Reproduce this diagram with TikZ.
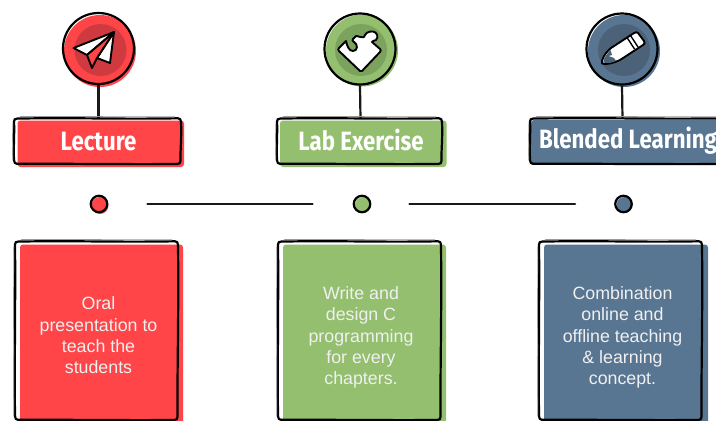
\documentclass[tikz,border=0pt]{standalone}
\usepackage{fontspec}
\setmainfont{Liberation Sans}
\newfontfamily\titlefont[FakeStretch=0.84]{Fira Sans}
\definecolor{cred}{HTML}{FF4548}
\definecolor{cgreen}{HTML}{93BF6F}
\definecolor{cblue}{HTML}{587591}
\definecolor{dred}{HTML}{CF3A40}
\definecolor{dgreen}{HTML}{7CA35D}
\definecolor{dblue}{HTML}{4C6278}
\tikzset{
  ink/.style={line width=2.2pt,draw=black,line join=round,line cap=round},
  thinink/.style={line width=.7pt,draw=black!40,line cap=round},
  iconink/.style={line width=1.9pt,draw=black,line join=round},
  stem/.style={line width=2.2pt,draw=black!90},
  ball/.style={circle,draw=black,line width=2.2pt,minimum size=#1,inner sep=0pt},
  titletext/.style={text=white,font=\titlefont\bfseries\fontsize{26.5}{29}\selectfont,inner sep=0pt,anchor=base},
  bodytext/.style={text=white!94!black,align=center,font=\fontsize{17.8}{21.3}\selectfont,inner sep=0pt},
  anchorbox/.style={inner sep=0pt,minimum width=#1,minimum height=1pt},
}
% hand-drawn rounded box: left, top, right, bottom
\newcommand{\sketchbox}[4]{%
  \draw[ink] ({#1+3},{#2+.6}) .. controls ({#1+(#3-#1)*.35},{#2-.5}) and ({#1+(#3-#1)*.6},{#2+1.3}) .. ({#3-3},{#2+.3})
    .. controls ({#3-1},{#2+.3}) and ({#3},{#2+1.5}) .. ({#3},{#2+4})
    .. controls ({#3+.8},{#2+(#4-#2)*.4}) and ({#3-.8},{#2+(#4-#2)*.7}) .. ({#3-.5},{#4-3})
    .. controls ({#3-.5},{#4-1}) and ({#3-1.5},{#4}) .. ({#3-4},{#4})
    .. controls ({#1+(#3-#1)*.6},{#4+.4}) and ({#1+(#3-#1)*.3},{#4-.5}) .. ({#1+3},{#4-.2})
    .. controls ({#1+1},{#4-.2}) and ({#1},{#4-1.5}) .. ({#1},{#4-4})
    .. controls ({#1-.7},{#2+(#4-#2)*.65}) and ({#1+.7},{#2+(#4-#2)*.3}) .. ({#1},{#2+3.5})
    .. controls ({#1},{#2+1.5}) and ({#1+1},{#2+.6}) .. cycle;
  \draw[thinink] ({#1-1.2},{#2+6}) .. controls ({#1-1.8},{#2+(#4-#2)*.5}) and ({#1-1},{#2+(#4-#2)*.7}) .. ({#1-1.2},{#4-4});
  \draw[thinink] ({#1+6},{#2-1.4}) .. controls ({#1+(#3-#1)*.4},{#2-1.8}) and ({#1+(#3-#1)*.7},{#2-1}) .. ({#3-6},{#2-1.4});
}
\begin{document}
\begin{tikzpicture}[x=1pt,y=-1pt]
\clip (0,0) rectangle (716,421);
% ---------- fills ----------
\fill[cred,rounded corners=3pt] (17.5,120.5) rectangle (184,167);
\fill[cgreen,rounded corners=3pt] (280,120.5) rectangle (446.5,167);
\fill[cblue,rounded corners=3pt] (531,120) rectangle (730,164);
\fill[cred,rounded corners=3pt] (20,244.5) rectangle (183,430);
\fill[cgreen,rounded corners=3pt] (283,244.5) rectangle (446,430);
\fill[cblue,rounded corners=3pt] (544,244.5) rectangle (708,430);
\fill[cred] (100,51) circle (36);
\fill[cgreen] (362,50.5) circle (36);
\fill[cblue] (624,51) circle (36);
\fill[dred] (100.5,50) circle (26);
\fill[dgreen] (361,50) circle (26);
\fill[dblue] (624,50) circle (26);
\fill[cred] (100,205.5) circle (8.5);
\fill[cgreen] (363,205) circle (8);
\fill[cblue] (624.5,205) circle (8);
% ---------- circles ----------
\node[ball=71pt] (c1) at (98.5,48.5) {};
\node[ball=71pt] (c2) at (360,49) {};
\node[ball=71pt] (c3) at (622,49) {};
% ---------- header anchors and text ----------
\node[anchorbox=165pt] (h1) at (98.5,118.5) {};
\node[anchorbox=165pt] (h2) at (360.5,118.5) {};
\node[anchorbox=165pt] (h3) at (622.5,118.5) {};
\draw[stem] (c1.south) -- (h1.center);
\draw[stem] (c2.south) -- (h2.center);
\draw[stem] (c3.south) -- (h3.center);
\sketchbox{14}{118}{181}{164}
\sketchbox{277}{118}{442}{164}
\sketchbox{530}{118}{732}{164}
\node[titletext] (t1) at (98.5,150) {Lecture};
\node[titletext] (t2) at (361,150) {Lab Exercise};
\node[titletext] (t3) at (628,148.5) {Blended Learning};
% ---------- dots and timeline ----------
\node[ball=16.5pt] (d1) at (99,204) {};
\node[ball=16.5pt] (d2) at (362,204) {};
\node[ball=16.5pt] (d3) at (623.5,204) {};
\draw[stem,line cap=round,shorten <=39pt,shorten >=40pt] (d1) -- (d2);
\draw[stem,line cap=round,shorten <=38pt,shorten >=39pt] (d2) -- (d3);
% ---------- body boxes ----------
\sketchbox{15}{241}{178}{420}
\sketchbox{278}{241}{441}{420}
\sketchbox{539}{241}{702}{420}
\node[bodytext] (b1) at (98.5,335.5) {Oral\\presentation to\\teach the\\students};
\node[bodytext] (b2) at (361,337.5) {Write and\\design C\\programming\\for every\\chapters.};
\node[bodytext] (b3) at (622.5,337.5) {Combination\\online and\\offline teaching\\\& learning\\concept.};
% ---------- paper plane ----------
\draw[iconink,fill=white] (114,32) -- (73.5,48) -- (87,55) -- cycle;
\draw[iconink,fill=white] (114,32) -- (97,58) -- (110,63) -- cycle;
\draw[iconink,fill=cred] (114,32) -- (87,55) -- (92,68) -- (97,58) -- cycle;
% ---------- puzzle ----------
\draw[iconink,fill=white] (360,71) -- (339,51)
  .. controls (338,50) and (338,49) .. (339,48)
  -- (346,41)
  .. controls (347,46) and (349,51) .. (353,51)
  .. controls (358,51) and (358,44) .. (354,42)
  .. controls (352,41) and (352,40) .. (353,39)
  -- (356,36)
  .. controls (358,36) and (362,38) .. (364,37)
  .. controls (365,33) and (369,31) .. (373,31.5)
  .. controls (377,32) and (379,37) .. (376,40)
  .. controls (374,41) and (372,41) .. (372,42)
  -- (380,49)
  .. controls (381,50) and (381,51) .. (380,52)
  -- (362,71) .. controls (361,72) and (361,72) .. (360,71) -- cycle;
% ---------- pencil ----------
\draw[iconink,fill=white] (602,63.5)
  .. controls (601,60) and (605,53) .. (611,48)
  -- (634,33) .. controls (636,32) and (637,32) .. (638,33)
  -- (644,41) .. controls (645,43) and (645,44) .. (643,45)
  -- (620,60)
  .. controls (614,63) and (606,65) .. (602,63.5) -- cycle;
\fill[dblue] (603.5,62.5) .. controls (603,59) and (606,55) .. (610.5,50)
  -- (612,55) -- (608.5,56) -- (614,58) -- (616,61)
  .. controls (612,63) and (606,63.5) .. (603.5,62.5) -- cycle;
\draw[line width=1.4pt,draw=black] (627,37.5) -- (634.5,49);
\draw[line width=1.4pt,draw=black] (630.5,35.5) -- (638,47);
\end{tikzpicture}
\end{document}
